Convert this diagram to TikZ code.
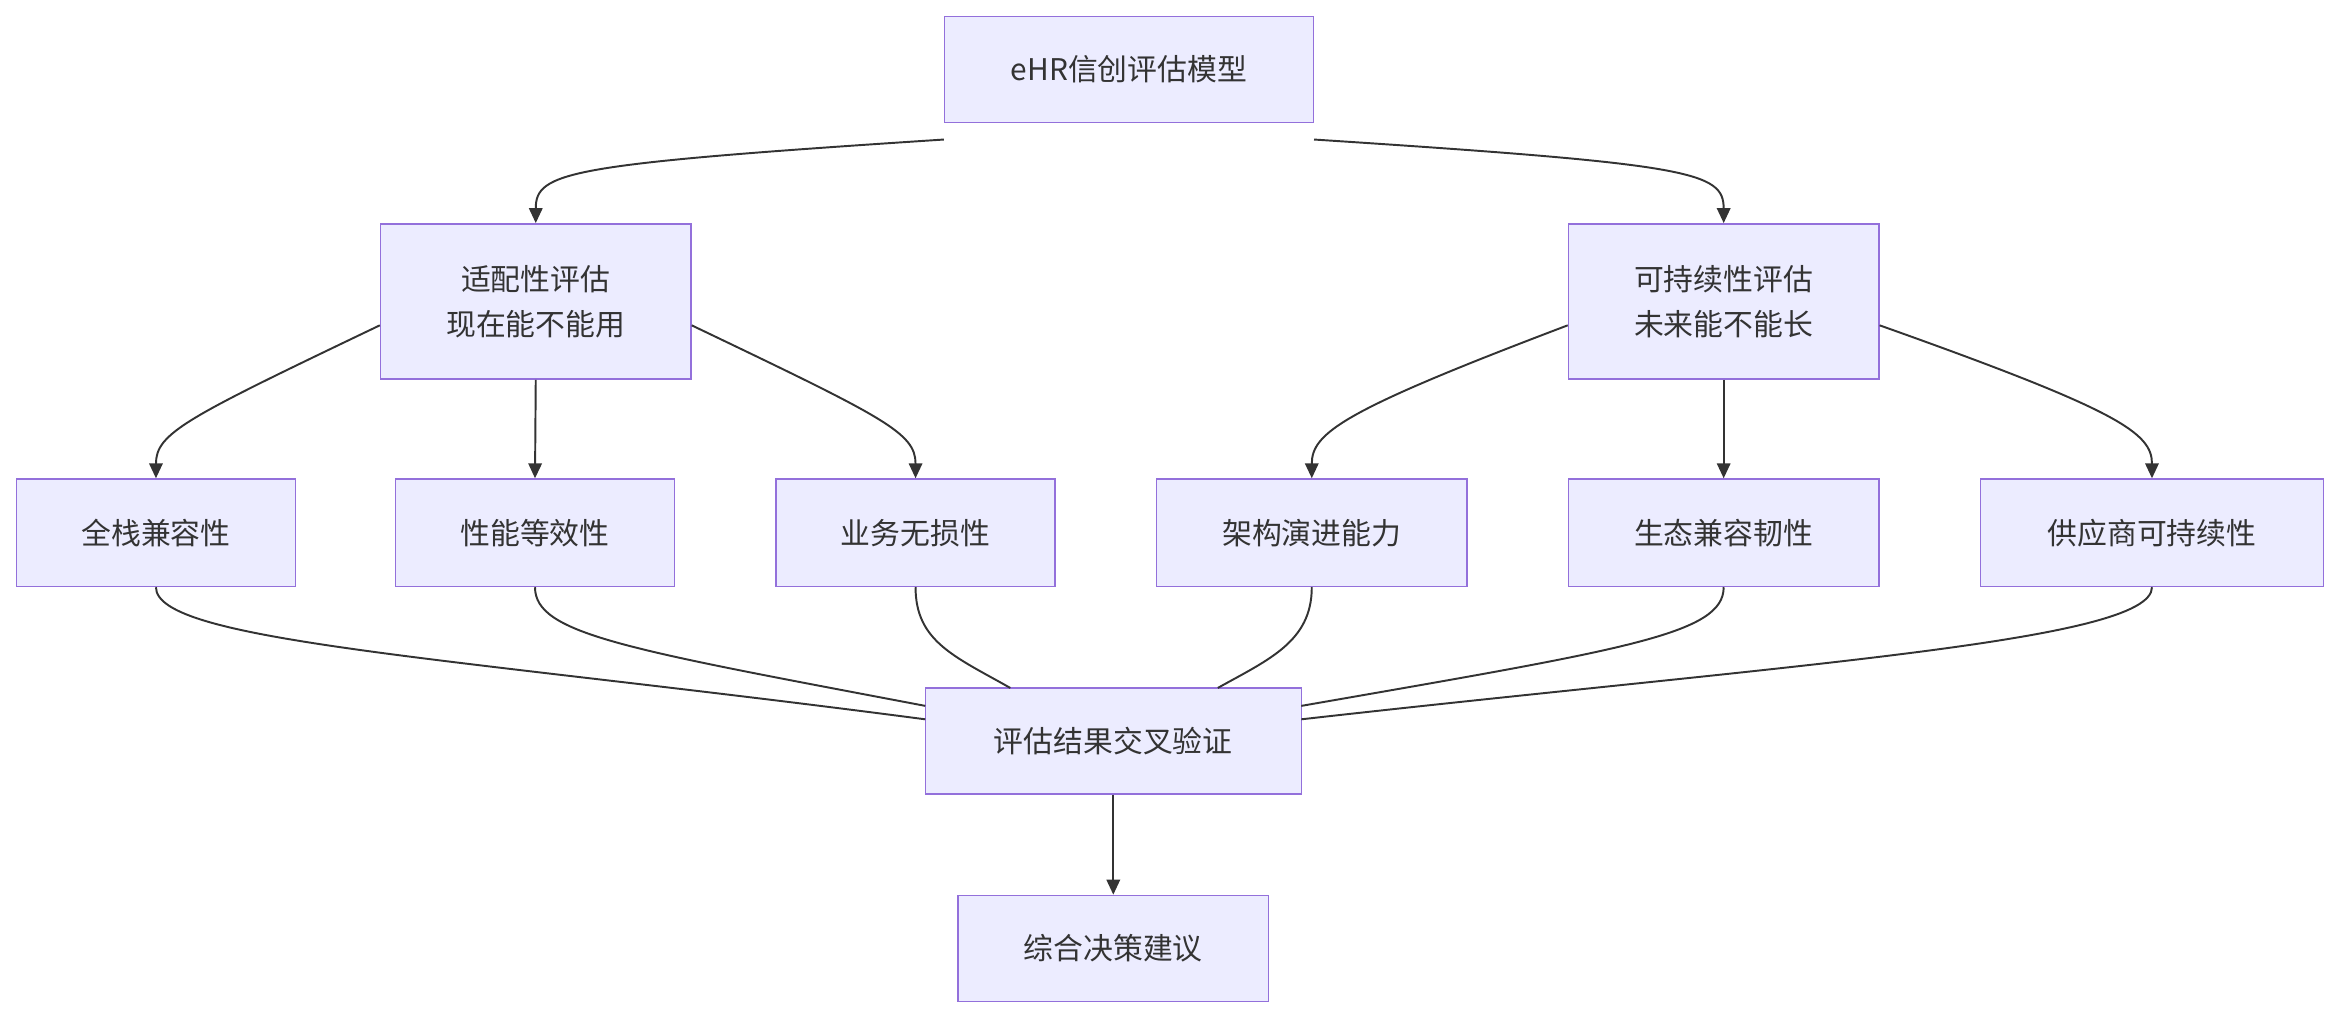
\documentclass[tikz,border=0pt]{standalone}
\usepackage{fontspec}
\setmainfont{Noto Sans CJK SC}
\usetikzlibrary{arrows.meta}
\definecolor{nodefill}{HTML}{ECECFF}
\definecolor{nodeline}{HTML}{9370DB}
\definecolor{edge}{HTML}{333333}
\begin{document}
\begin{tikzpicture}[x=1pt,y=-1pt,
  box/.style={draw=nodeline,fill=nodefill,line width=1pt,inner sep=0pt,align=center,font=\fontsize{20}{30}\selectfont,text=edge},
  conn/.style={draw=edge,line width=1.3pt},
  arr/.style={conn,-{Triangle[length=10pt,width=9pt]}}]
\useasboundingbox (0,0) rectangle (1568,684);
\node[box,minimum width=247pt,minimum height=71pt] (top) at (756.5,46.5) {eHR信创评估模型};
\node[box,minimum width=208pt,minimum height=104pt] (a) at (359,202) {适配性评估\\现在能不能用};
\node[box,minimum width=208pt,minimum height=104pt] (b) at (1155,202) {可持续性评估\\未来能不能长};
\node[box,minimum width=187pt,minimum height=72pt] (a1) at (104.5,357) {全栈兼容性};
\node[box,minimum width=187pt,minimum height=72pt] (a2) at (358.5,357) {性能等效性};
\node[box,minimum width=187pt,minimum height=72pt] (a3) at (613.5,357) {业务无损性};
\node[box,minimum width=208pt,minimum height=72pt] (b1) at (879,357) {架构演进能力};
\node[box,minimum width=208pt,minimum height=72pt] (b2) at (1155,357) {生态兼容韧性};
\node[box,minimum width=230pt,minimum height=72pt] (b3) at (1442,357) {供应商可持续性};
\node[box,minimum width=252pt,minimum height=71pt] (m) at (746,496.5) {评估结果交叉验证};
\node[box,minimum width=208pt,minimum height=71pt] (f) at (746,635.5) {综合决策建议};

\coordinate (t1) at ([yshift=-11pt]top.south west);
\coordinate (t2) at ([yshift=-11pt]top.south east);
\draw[arr] (t1) .. controls (380,110) and (359,115) .. (a.north);
\draw[arr] (t2) .. controls (1134,110) and (1155,115) .. (b.north);

\coordinate (al) at ([yshift=-16pt]a.west);
\coordinate (ar) at ([yshift=-16pt]a.east);
\coordinate (bl) at ([yshift=-16pt]b.west);
\coordinate (br) at ([yshift=-16pt]b.east);
\draw[arr] (al) .. controls (125,280) and (104.5,290) .. (a1.north);
\draw[arr] (a.south) -- (a2.north);
\draw[arr] (ar) .. controls (593,280) and (613.5,290) .. (a3.north);
\draw[arr] (bl) .. controls (900,275) and (879,290) .. (b1.north);
\draw[arr] (b.south) -- (b2.north);
\draw[arr] (br) .. controls (1420,275) and (1442,290) .. (b3.north);

\coordinate (m1) at (620,482);
\coordinate (m2) at (620,473);
\coordinate (m3) at (677,461);
\coordinate (m4) at (816,461);
\coordinate (m5) at (872,473);
\coordinate (m6) at (872,482);
\draw[conn] (a1.south) .. controls (104.5,430) and (300,440) .. (m1);
\draw[conn] (a2.south) .. controls (358.5,425) and (420,435) .. (m2);
\draw[conn] (a3.south) .. controls (613.5,430) and (640,440) .. (m3);
\draw[conn] (b1.south) .. controls (879,430) and (850,442) .. (m4);
\draw[conn] (b2.south) .. controls (1155,425) and (1090,435) .. (m5);
\draw[conn] (b3.south) .. controls (1442,430) and (1200,445) .. (m6);
\draw[arr] (m.south) -- (f.north);
\end{tikzpicture}
\end{document}
